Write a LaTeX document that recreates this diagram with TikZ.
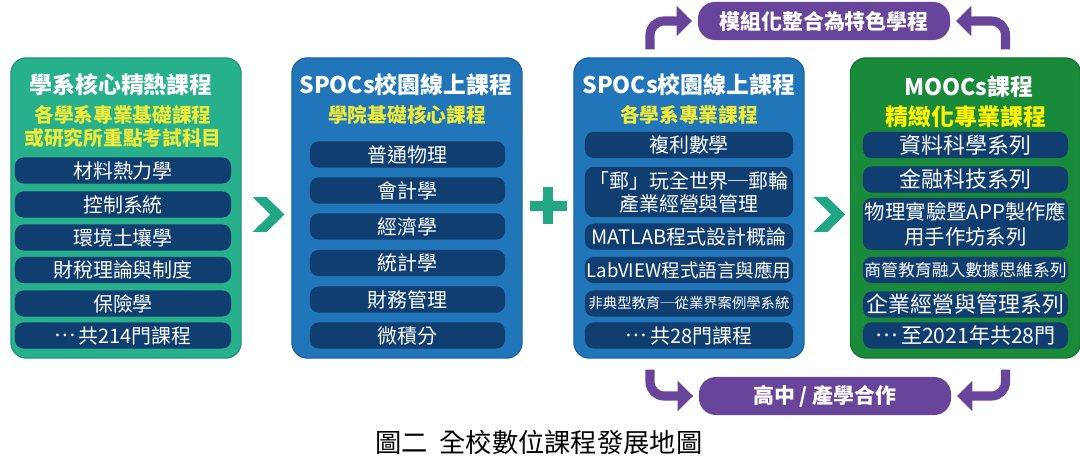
\documentclass[tikz,border=0pt]{standalone}
\usepackage{fontspec}
\setmainfont{Noto Sans CJK TC}
\usetikzlibrary{arrows.meta}
\definecolor{panelteal}{HTML}{26B08C}
\definecolor{panelblue}{HTML}{2176BA}
\definecolor{panelgreen}{HTML}{198A3A}
\definecolor{itemnavy}{HTML}{103E70}
\definecolor{signteal}{HTML}{22A784}
\definecolor{pillpurple}{HTML}{68449A}
\definecolor{subyellow}{HTML}{EEEA3C}
\newcommand{\middots}{\raisebox{0.33em}{…}\,}
\tikzset{panel/.style={rounded corners=11pt,minimum width=5.75cm,minimum height=7.5cm,line width=1pt}}
\tikzset{title/.style={text=white,font=\bfseries\fontsize{16.3}{18}\selectfont}}
\tikzset{subtitle/.style={text=subyellow,align=center,font=\bfseries\fontsize{14}{16.3}\selectfont}}
\tikzset{item/.style={fill=itemnavy,text=white,rounded corners=6pt,inner sep=0pt,minimum width=#1,minimum height=0.65cm,align=center,font=\fontsize{14.2}{16.3}\selectfont}}
\tikzset{pill/.style={fill=pillpurple,text=white,rounded corners=12pt,minimum width=6.3cm,minimum height=0.95cm,font=\bfseries\fontsize{14.9}{17}\selectfont}}
\tikzset{purparrow/.style={draw=pillpurple,line width=6.5pt,rounded corners=10pt,shorten >=4pt,-{Triangle[width=21pt,length=11pt]}}}
\tikzset{chev/.style={fill=signteal}}

\begin{document}
\begin{tikzpicture}[x=0.025cm,y=-0.025cm]
\useasboundingbox (0,0) rectangle (1080,465);
% panels
\node[panel,name=p1,fill=panelteal,draw=panelteal!85!black] at (126,208) {};
\node[panel,name=p2,fill=panelblue,draw=panelblue!85!black] at (407,208) {};
\node[panel,name=p3,fill=panelblue,draw=panelblue!85!black] at (689,208) {};
\node[panel,name=p4,fill=panelgreen,draw=panelgreen!85!black] at (965.5,208) {};
% first panel
\node[title,name=t1] at (121,85) {學系核心精熱課程};
\node[subtitle,name=s1] at (123,126.5) {各學系專業基礎課程\\或研究所重點考試科目};
\node[item=5.4cm,name=a1] at (123,170.5) {材料熱力學};
\node[item=5.4cm,name=a2] at (123,204.5) {控制系統};
\node[item=5.4cm,name=a3] at (123,237.5) {環境土壤學};
\node[item=5.4cm,name=a4] at (123,270) {財稅理論與制度};
\node[item=5.4cm,name=a5] at (123,303.5) {保險學};
\node[item=5.4cm,name=a6] at (123,335.5) {\middots 共214門課程};
% second panel
\node[title,name=t2] at (406,85) {SPOCs校園線上課程};
\node[subtitle,name=s2] at (407,115) {學院基礎核心課程};
\node[item=4.875cm,name=b1] at (407.5,154.5) {普通物理};
\node[item=4.875cm,name=b2] at (407.5,190.5) {會計學};
\node[item=4.875cm,name=b3] at (407.5,226.5) {經濟學};
\node[item=4.875cm,name=b4] at (407.5,263) {統計學};
\node[item=4.875cm,name=b5] at (407.5,299.5) {財務管理};
\node[item=4.875cm,name=b6] at (407.5,335.5) {微積分};
% third panel
\node[title,name=t3] at (689,85) {SPOCs校園線上課程};
\node[subtitle,name=s3] at (689,115) {各學系專業課程};
\node[item=5.2cm,name=c1] at (689,145) {複利數學};
\node[item=5.2cm,name=c2,minimum height=1.25cm] at (689,192) {「郵」玩全世界─郵輪\\產業經營與管理};
\node[item=5.2cm,name=c3] at (689,236.5) {MATLAB程式設計概論};
\node[item=5.2cm,name=c4,font=\fontsize{13.2}{15}\selectfont] at (689,270) {LabVIEW程式語言與應用};
\node[item=5.2cm,name=c5,font=\fontsize{10.2}{12}\selectfont] at (689,303.5) {非典型教育─從業界案例學系統};
\node[item=5.2cm,name=c6] at (689,335.5) {\middots 共28門課程};
% fourth panel
\node[title,name=t4] at (969,87) {MOOCs課程};
\node[subtitle,name=s4,text=yellow,font=\bfseries\fontsize{16.3}{18}\selectfont] at (966,117) {精緻化專業課程};
\node[item=5.125cm,name=d1,font=\fontsize{15.6}{17}\selectfont] at (965.5,145) {資料科學系列};
\node[item=5.125cm,name=d2,font=\fontsize{15.6}{17}\selectfont] at (965.5,179.5) {金融科技系列};
\node[item=5.125cm,name=d3,minimum height=1.3cm,font=\fontsize{14.5}{17.7}\selectfont] at (965.5,224) {物理實驗暨APP製作應\\用手作坊系列};
\node[item=5.125cm,name=d4,font=\fontsize{12}{14}\selectfont] at (965.5,270) {商管教育融入數據思維系列};
\node[item=5.125cm,name=d5,font=\fontsize{15.6}{17}\selectfont] at (965.5,304.5) {企業經營與管理系列};
\node[item=5.125cm,name=d6,font=\fontsize{15}{17}\selectfont] at (965.5,335.5) {\middots 至2021年共28門};
% signs between panels
\path (p1.east) -- (p2.west) coordinate[midway] (g1);
\path (p2.east) -- (p3.west) coordinate[midway] (g2);
\path (p3.east) -- (p4.west) coordinate[midway] (g3);
\fill[chev,shift={(g1)},shift={(2,6.5)}] (-16,-17.5) -- (-2,-17.5) -- (16,0) -- (-2,17.5) -- (-16,17.5) -- (2,0) -- cycle;
\fill[chev,shift={(g3)},shift={(2,6.5)}] (-16,-17.5) -- (-2,-17.5) -- (16,0) -- (-2,17.5) -- (-16,17.5) -- (2,0) -- cycle;
\draw[signteal,line width=7pt,shift={(g2)},shift={(0,-2)}] (-18.5,0) -- (18.5,0) (0,-18.5) -- (0,18.5);
% purple pills
\node[pill,name=mod] at (824,21) {模組化整合為特色學程};
\node[pill,name=coop] at (825,396) {高中 / 產學合作};
\draw[purparrow] ([shift={(-39,-8)}]p3.north) |- (mod);
\draw[purparrow] ([shift={(40,-8)}]p4.north) |- (mod);
\draw[purparrow] ([shift={(-39,11)}]p3.south) |- (coop);
\draw[purparrow] ([shift={(40,11)}]p4.south) |- (coop);
% caption
\node[name=cap,font=\fontsize{18.7}{21}\selectfont] at (539,442) {圖二\hspace{8pt}全校數位課程發展地圖};
\end{tikzpicture}
\end{document}
